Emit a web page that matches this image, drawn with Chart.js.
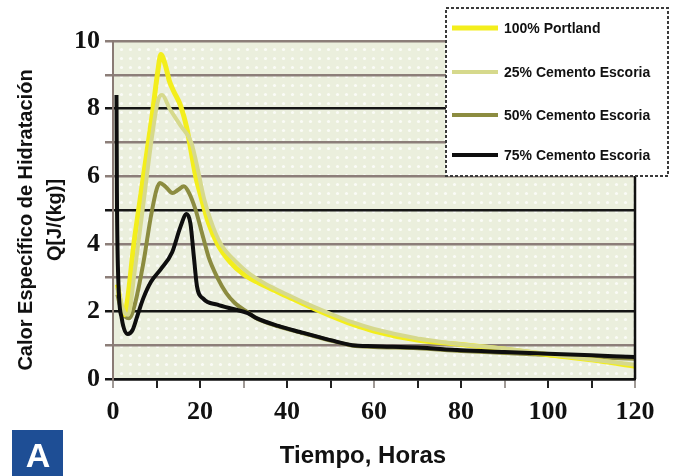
<!DOCTYPE html>
<html>
<head>
<meta charset="utf-8">
<title>Calor de hidratación</title>
<script src="https://cdn.jsdelivr.net/npm/chart.js@4.4.1/dist/chart.umd.min.js"></script>
<style>
	html, body { margin: 0; padding: 0; background: #fff; }
	#wrap { width: 676px; height: 476px; }
</style>
</head>
<body>
<div id="wrap"><canvas id="heatChart" width="676" height="476"></canvas></div>
<script>
"use strict";

// series labels, in legend order
var seriesNames = ["100% Portland", "25% Cemento Escoria", "50% Cemento Escoria", "75% Cemento Escoria"];

// 100% Portland
var portlandX = [1, 2.5, 5, 7, 9, 10.3, 11, 12, 13, 14, 15.5, 17, 18, 19, 20, 22, 24, 27, 30, 35, 40, 45, 50, 55, 60, 70, 80, 90, 100, 110, 120];
var portlandY = [2.8, 1.9, 4.2, 6.0, 7.8, 9.1, 9.6, 9.3, 8.8, 8.5, 8.1, 7.4, 6.7, 6.0, 5.5, 4.6, 4.0, 3.45, 3.1, 2.75, 2.45, 2.15, 1.87, 1.62, 1.42, 1.15, 1.02, 0.88, 0.72, 0.57, 0.38];

// 25% cemento escoria
var esc25X = [1, 2.5, 3.5, 5, 7, 9, 10.5, 11.3, 13, 15.5, 18, 19.5, 21, 23, 25, 28, 31, 35, 40, 45, 50, 55, 60, 70, 80, 90, 100, 110, 120];
var esc25Y = [2.7, 2.0, 1.9, 3.2, 5.2, 7.2, 8.3, 8.4, 8.0, 7.5, 7.0, 6.2, 5.3, 4.5, 3.95, 3.5, 3.15, 2.82, 2.5, 2.2, 1.93, 1.68, 1.48, 1.2, 1.03, 0.9, 0.74, 0.58, 0.42];

// 50% cemento escoria (tail runs under the 75% curve)
var esc50X = [1, 2, 3.7, 5, 7, 8.7, 10, 10.8, 12, 13.7, 15, 16.3, 17.5, 19, 20.5, 22, 24, 26, 28, 31, 33, 38, 43, 50, 55, 60, 70, 80, 90, 100, 110, 120];
var esc50Y = [2.5, 2.0, 1.8, 2.2, 3.45, 4.8, 5.6, 5.8, 5.7, 5.5, 5.6, 5.7, 5.5, 5.0, 4.3, 3.6, 3.0, 2.55, 2.25, 1.97, 1.79, 1.56, 1.38, 1.14, 0.99, 0.95, 0.91, 0.83, 0.77, 0.71, 0.65, 0.6];

// 75% cemento escoria
var esc75X = [0.8, 0.9, 1.2, 2, 3.4, 4.5, 5.6, 7, 8.7, 11, 13.6, 15.5, 16.9, 17.8, 18.6, 19.3, 20.8, 24, 27.6, 31, 33, 38, 43, 50, 55, 60, 70, 80, 90, 100, 110, 120];
var esc75Y = [8.4, 5.5, 3.0, 1.8, 1.33, 1.45, 1.87, 2.4, 2.87, 3.25, 3.75, 4.5, 4.88, 4.6, 3.6, 2.75, 2.37, 2.2, 2.07, 1.95, 1.8, 1.57, 1.39, 1.15, 1.0, 0.97, 0.93, 0.85, 0.8, 0.75, 0.7, 0.65];

var seriesColors = ["#f3ee1c", "#d6d98c", "#8c8c40", "#0e0e0e"];
var seriesWidths = [5, 4, 4, 4];
var seriesOrder = [2, 1, 3, 0];

// axis ranges and tick labels
var xMin = 0, xMax = 120, xStep = 10;
var yMin = 0, yMax = 10, yStep = 1;
var xTickLabels = [0, 20, 40, 60, 80, 100, 120];
var yTickLabels = [0, 2, 4, 6, 8, 10];
var darkGridValues = [0, 2, 5, 8];

var yTitleLines = ["Calor Específico de Hidratación", "Q[J/(kg)]"];
var xTitle = "Tiempo, Horas";
var panelLetter = "A";

function toPoints(xs, ys) {
	var pts = [];
	for (var i = 0; i < xs.length; i++) {
		pts.push({ x: xs[i], y: ys[i] });
	}
	return pts;
}

var allX = [portlandX, esc25X, esc50X, esc75X];
var allY = [portlandY, esc25Y, esc50Y, esc75Y];
var datasets = [];
for (var s = 0; s < seriesNames.length; s++) {
	datasets.push({
		label: seriesNames[s],
		data: toPoints(allX[s], allY[s]),
		borderColor: seriesColors[s],
		borderWidth: seriesWidths[s],
		showLine: true,
		pointRadius: 0,
		cubicInterpolationMode: "monotone",
		order: seriesOrder[s]
	});
}

// dotted greenish fill behind the plot
function makeBackdrop(ctx) {
	var c = document.createElement("canvas");
	c.width = 9; c.height = 9;
	var p = c.getContext("2d");
	p.fillStyle = "#ebefdd";
	p.fillRect(0, 0, 9, 9);
	p.fillStyle = "rgba(255,255,255,0.75)";
	p.beginPath();
	p.arc(4.5, 4.5, 1.6, 0, Math.PI * 2);
	p.fill();
	return ctx.createPattern(c, "repeat");
}

var decorPlugin = {
	id: "decor",
	beforeDraw: function(chart) {
		var ctx = chart.ctx, a = chart.chartArea;
		ctx.save();
		ctx.fillStyle = makeBackdrop(ctx);
		ctx.fillRect(a.left, a.top, a.right - a.left, a.bottom - a.top);
		ctx.restore();
	},
	afterDraw: function(chart) {
		var ctx = chart.ctx, a = chart.chartArea;
		ctx.save();

		// right frame line
		ctx.strokeStyle = "#111";
		ctx.lineWidth = 2.5;
		ctx.beginPath();
		ctx.moveTo(a.right, a.top);
		ctx.lineTo(a.right, a.bottom);
		ctx.stroke();

		// legend box
		var bx = 446, by = 8, bw = 222, bh = 168;
		ctx.fillStyle = "#fff";
		ctx.fillRect(bx, by, bw, bh);
		ctx.setLineDash([3, 2]);
		ctx.strokeStyle = "#3a3a3a";
		ctx.lineWidth = 2;
		ctx.strokeRect(bx, by, bw, bh);
		ctx.setLineDash([]);
		var rowY = [28, 72, 115, 155];
		var ds = chart.data.datasets;
		ctx.font = "bold 14px 'Liberation Sans', Arial, sans-serif";
		ctx.textBaseline = "middle";
		ctx.textAlign = "left";
		for (var i = 0; i < ds.length; i++) {
			ctx.strokeStyle = ds[i].borderColor;
			ctx.lineWidth = ds[i].borderWidth;
			ctx.beginPath();
			ctx.moveTo(452, rowY[i]);
			ctx.lineTo(498, rowY[i]);
			ctx.stroke();
			ctx.fillStyle = "#111";
			ctx.fillText(ds[i].label, 504, rowY[i] + 1);
		}

		// axis titles
		ctx.fillStyle = "#111";
		ctx.textAlign = "center";
		ctx.font = "bold 20px 'Liberation Sans', Arial, sans-serif";
		ctx.save();
		ctx.translate(26, 220);
		ctx.rotate(-Math.PI / 2);
		ctx.fillText(yTitleLines[0], 0, 0);
		ctx.fillText(yTitleLines[1], 0, 29);
		ctx.restore();
		ctx.font = "bold 24px 'Liberation Sans', Arial, sans-serif";
		ctx.fillText(xTitle, 363, 456);

		// panel letter
		ctx.fillStyle = "#1e4e95";
		ctx.fillRect(12, 430, 51, 46);
		ctx.fillStyle = "#fff";
		ctx.font = "bold 34px 'Liberation Sans', Arial, sans-serif";
		ctx.textBaseline = "alphabetic";
		ctx.fillText(panelLetter, 38, 467);
		ctx.restore();
	}
};

var ctx = document.getElementById("heatChart").getContext("2d");
var chart = new Chart(ctx, {
	type: "scatter",
	data: { datasets: datasets },
	plugins: [decorPlugin],
	options: {
		responsive: false,
		animation: false,
		layout: { padding: { top: 41, right: 41, left: 0, bottom: 0 } },
		plugins: {
			legend: { display: false },
			tooltip: { enabled: false }
		},
		scales: {
			x: {
				type: "linear",
				min: xMin,
				max: xMax,
				afterFit: function(scale) { scale.height = 97; },
				border: { display: true, color: "#111", width: 2.5 },
				grid: {
					drawOnChartArea: false,
					drawTicks: true,
					tickLength: 9,
					lineWidth: 2,
					tickColor: function(c) {
						return c.tick && c.tick.value % 30 === 0 ? "#a09a96" : "#222";
					}
				},
				ticks: {
					stepSize: xStep,
					autoSkip: false,
					maxRotation: 0,
					padding: 9,
					color: "#111",
					font: { family: "'Liberation Serif', 'Times New Roman', serif", weight: "bold", size: 26 },
					callback: function(v) { return xTickLabels.indexOf(v) >= 0 ? v : ""; }
				}
			},
			y: {
				type: "linear",
				min: yMin,
				max: yMax,
				afterFit: function(scale) { scale.width = 113; },
				border: { display: true, color: "#8a7b74", width: 2 },
				grid: {
					drawTicks: true,
					tickLength: 8,
					lineWidth: 2.5,
					color: function(c) {
						return c.tick && darkGridValues.indexOf(c.tick.value) >= 0 ? "#151515" : "#8c7e79";
					}
				},
				ticks: {
					stepSize: yStep,
					autoSkip: false,
					padding: 5,
					color: "#111",
					font: { family: "'Liberation Serif', 'Times New Roman', serif", weight: "bold", size: 26 },
					callback: function(v) { return yTickLabels.indexOf(v) >= 0 ? v : ""; }
				}
			}
		}
	}
});
</script>
</body>
</html>
